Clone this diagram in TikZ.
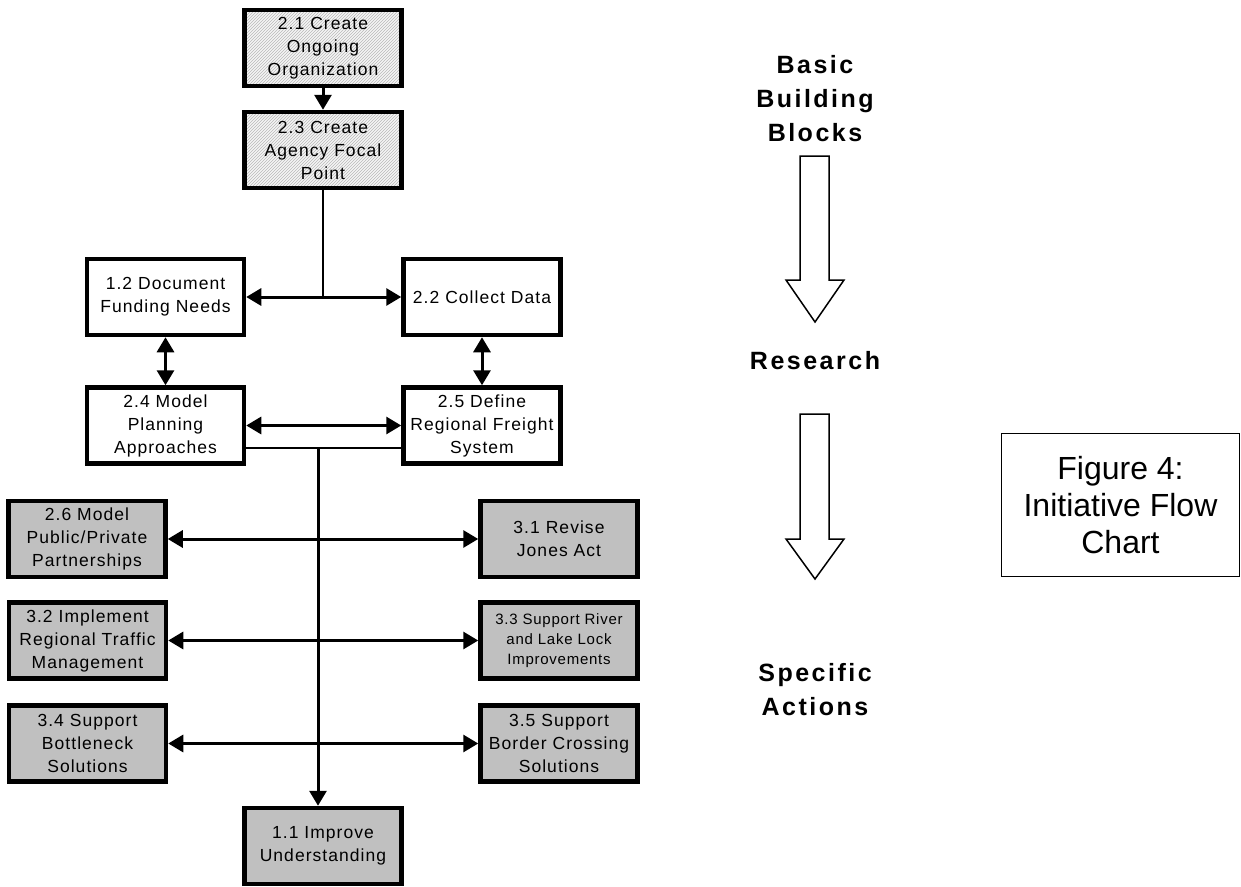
\documentclass[tikz,border=0pt]{standalone}
\usepackage{fontspec}
\setmainfont{Liberation Sans}
\usetikzlibrary{arrows.meta,patterns}
\definecolor{boxgray}{RGB}{192,192,192}
\newcommand\myboxfont{\fontsize{17.5}{23}\selectfont\addfontfeature{LetterSpace=6}}
\newcommand\mysmallboxfont{\fontsize{15}{20}\selectfont\addfontfeature{LetterSpace=5}}
\newcommand\mylblfont{\fontsize{25}{34}\selectfont\bfseries\addfontfeature{LetterSpace=10}}
\begin{document}
\begin{tikzpicture}[x=1pt,y=-1pt,
  box/.style={draw=black,line width=4.5pt,minimum width=157pt,minimum height=76pt,inner sep=0pt,align=center,font=\myboxfont},
  hatchbox/.style={box,preaction={fill=gray!8},pattern=north east lines,pattern color=gray!55},
  whitebox/.style={box,fill=white},
  graybox/.style={box,fill=boxgray},
  tipA/.tip={Triangle[length=15pt,width=17pt]},
  arr/.style={line width=3pt,-tipA},
  dbl/.style={line width=3pt,tipA-tipA},
  thinline/.style={line width=1.5pt},
  lbl/.style={align=center,font=\mylblfont,inner sep=0pt},
  bigarrow/.style={draw=black,line width=1.5pt,fill=white,line join=miter}
]
\useasboundingbox (0,0) rectangle (1241,886);

% boxes
\node[hatchbox] (n21) at (323,48) {2.1 Create\\Ongoing\\Organization};
\node[hatchbox] (n23) at (323,150) {2.3 Create\\Agency Focal\\Point};
\node[whitebox] (n12) at (165.5,297) {1.2 Document\\Funding Needs};
\node[whitebox] (n22) at (482,297) {2.2 Collect Data};
\node[whitebox] (n24) at (165.5,425.5) {2.4 Model\\Planning\\Approaches};
\node[whitebox] (n25) at (482,425.5) {2.5 Define\\Regional Freight\\System};
\node[graybox] (n26) at (87,539) {2.6 Model\\Public/Private\\Partnerships};
\node[graybox] (n31) at (559,539) {3.1 Revise\\Jones Act};
\node[graybox] (n32) at (87.5,640.5) {3.2 Implement\\Regional Traffic\\Management};
\node[graybox,font=\mysmallboxfont] (n33) at (559,640.5) {3.3 Support River\\and Lake Lock\\Improvements};
\node[graybox] (n34) at (87.5,743.5) {3.4 Support\\Bottleneck\\Solutions};
\node[graybox] (n35) at (559,743.5) {3.5 Support\\Border Crossing\\Solutions};
\node[graybox] (n11) at (323,846) {1.1 Improve\\Understanding};

% junctions
\coordinate (j1) at (323,297);
\coordinate (j2) at (318,448);

% connectors
\draw[arr] (n21) -- (n23);
\draw[thinline] (n23.south) -- (j1);
\draw[dbl] (n12) -- (n22);
\draw[dbl] (n12) -- (n24);
\draw[dbl] (n22) -- (n25);
\draw[dbl] (n24) -- (n25);
\draw[thinline] (n24.east |- j2) -- (n25.west |- j2);
\draw[arr] (j2) -- (j2 |- n11.north);
\draw[dbl] (n26) -- (n31);
\draw[dbl] (n32) -- (n33);
\draw[dbl] (n34) -- (n35);

% right side labels and arrows
\node[lbl] (basic) at (815,98.5) {Basic\\Building\\Blocks};
\draw[bigarrow] (800,156) -- (829,156) -- (829,280) -- (844,280) -- (815,322) -- (786,280) -- (800,280) -- cycle;
\node[lbl] (research) at (815,361) {Research};
\draw[bigarrow] (800,414) -- (829,414) -- (829,539) -- (844,539) -- (815,579) -- (786,539) -- (800,539) -- cycle;
\node[lbl] (specific) at (815,690) {Specific\\Actions};

% figure caption box
\node[draw=black,line width=1.5pt,minimum width=238pt,minimum height=143pt,inner sep=0pt,align=center,font=\fontsize{32}{37}\selectfont] (fig) at (1120.5,505) {Figure 4:\\Initiative Flow\\Chart};
\end{tikzpicture}
\end{document}
